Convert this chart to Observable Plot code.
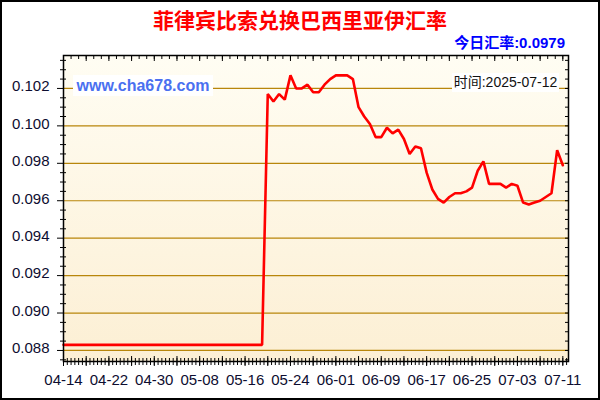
<!DOCTYPE html>
<html><head><meta charset="utf-8">
<script src="https://cdn.jsdelivr.net/npm/d3@7"></script>
<script src="https://cdn.jsdelivr.net/npm/@observablehq/plot@0.6"></script>
<style>
body{margin:0;background:#fff;}
#wrap{position:relative;width:600px;height:400px;overflow:hidden;font-family:"Liberation Sans",Arial,"Noto Sans CJK SC",sans-serif;}
#chart{position:absolute;left:0;top:0;}
#border{position:absolute;left:0;top:0;width:600px;height:400px;box-sizing:border-box;border:2px solid #000;pointer-events:none;}
#title{position:absolute;left:0;width:600px;top:6px;text-align:center;color:#f00;font-weight:bold;font-size:21px;line-height:27px;white-space:nowrap;font-family:"Noto Sans CJK SC",sans-serif;}
#rate{position:absolute;right:35px;top:33px;color:#0000ff;font-weight:bold;font-size:15px;line-height:20px;white-space:nowrap;font-family:"Liberation Sans",Arial,"Noto Sans CJK SC",sans-serif;}
#site{position:absolute;left:73px;top:75px;width:140px;height:21px;background:#fff;color:#4a70f0;font-weight:bold;font-size:16px;line-height:21px;text-align:center;white-space:nowrap;font-family:"Liberation Sans",Arial,sans-serif;}
#date{position:absolute;left:452px;top:73px;width:107px;height:19px;background:#fff;color:#111;font-size:14px;line-height:19px;text-align:center;white-space:nowrap;font-family:"Liberation Sans",Arial,"Noto Sans CJK SC",sans-serif;}
</style></head>
<body>
<div id="wrap">
  <div id="chart"></div>
  <div id="title">菲律宾比索兑换巴西里亚伊汇率</div>
  <div id="rate">今日汇率:0.0979</div>
  <div id="site">www.cha678.com</div>
  <div id="date">时间:2025-07-12</div>
  <div id="border"></div>
</div>
<script>
const dates = [
  "04-14","04-15","04-16","04-17","04-18","04-19","04-20","04-21","04-22","04-23","04-24","04-25","04-26","04-27","04-28","04-29","04-30",
  "05-01","05-02","05-03","05-04","05-05","05-06","05-07","05-08","05-09","05-10","05-11","05-12","05-13","05-14","05-15","05-16","05-17","05-18","05-19",
  "05-20","05-21","05-22","05-23","05-24","05-25","05-26","05-27","05-28","05-29","05-30","05-31",
  "06-01","06-02","06-03","06-04","06-05","06-06","06-07","06-08","06-09","06-10","06-11","06-12","06-13","06-14","06-15",
  "06-16","06-17","06-18","06-19","06-20","06-21","06-22","06-23","06-24","06-25","06-26","06-27","06-28","06-29","06-30",
  "07-01","07-02","07-03","07-04","07-05","07-06","07-07","07-08","07-09","07-10","07-11"
];
const rates = [
  0.0883,0.0883,0.0883,0.0883,0.0883,0.0883,0.0883,0.0883,0.0883,0.0883,0.0883,0.0883,0.0883,0.0883,0.0883,0.0883,0.0883,
  0.0883,0.0883,0.0883,0.0883,0.0883,0.0883,0.0883,0.0883,0.0883,0.0883,0.0883,0.0883,0.0883,0.0883,0.0883,0.0883,0.0883,0.0883,0.0883,
  0.1017,0.1013,0.1017,0.1014,0.1027,0.1020,0.1020,0.1022,0.1018,0.1018,0.1022,0.1025,
  0.1027,0.1027,0.1027,0.1025,0.1010,0.1005,0.1001,0.0994,0.0994,0.0999,0.0996,0.0998,0.0993,0.0985,0.0989,
  0.0988,0.0975,0.0966,0.0961,0.0959,0.0962,0.0964,0.0964,0.0965,0.0967,0.0976,0.0981,0.0969,0.0969,0.0969,
  0.0967,0.0969,0.0968,0.0959,0.0958,0.0959,0.0960,0.0962,0.0964,0.0987,0.0979
];
const yTicks = [0.088,0.090,0.092,0.094,0.096,0.098,0.100,0.102];
const xLabels = ["04-14","04-22","04-30","05-08","05-16","05-24","06-01","06-09","06-17","06-25","07-03","07-11"];
const year = 2025;
const xStart = "04-14", xEnd = "07-12";
const yDomain = [0.08741, 0.10376];

const parse = s => new Date(`${year}-${s}T00:00:00Z`);
const data = dates.map((d, i) => ({date: parse(d), rate: rates[i]}));
const t0 = parse(xStart), t1 = parse(xEnd);
const DAY = 864e5;
const span = (t1 - t0) / DAY;
const stepDates = step => d3.range(0, span + 1e-6, step).map(k => new Date(+t0 + k * DAY));
const xMinorBottom = stepDates(2/3);
const xMajorBottom = stepDates(4);
const xMinorTop = stepDates(4/3);
const xMajorTop = stepDates(4);
const yMinor = d3.range(175, 208).map(k => +(k * 0.0005).toFixed(4)).filter(v => v >= yDomain[0] && v <= yDomain[1]);
const yMinorOnly = yMinor.filter(v => !yTicks.some(t => Math.abs(t - v) < 1e-7));

const ticksOnly = {label: null, fill: "none", stroke: "#000"};
const chart = Plot.plot({
  width: 600,
  height: 400,
  marginLeft: 63,
  marginRight: 32,
  marginTop: 55,
  marginBottom: 39,
  style: {fontFamily: "'Liberation Sans', Arial, sans-serif", background: "transparent", color: "#0d0d30", overflow: "visible"},
  x: {type: "utc", domain: [t0, t1], axis: null},
  y: {domain: yDomain, axis: null},
  marks: [
    Plot.frame({fill: "url(#bgGrad)", stroke: null}),
    Plot.ruleY(yTicks, {stroke: "#b8860b", strokeWidth: 1.2}),
    Plot.axisY(yTicks, {...ticksOnly, anchor: "left", tickSize: 6}),
    Plot.axisY(yMinorOnly, {...ticksOnly, anchor: "left", tickSize: 6, dx: 3}),
    Plot.axisY(yTicks, {anchor: "left", label: null, tickSize: 0, tickPadding: 14, dy: -2, tickFormat: d3.format(".3f"), fontSize: 15, fill: "#0d0d30"}),
    Plot.axisY(yMinor, {...ticksOnly, anchor: "right", tickSize: 4, dx: -4}),
    Plot.axisX(xMinorBottom, {...ticksOnly, anchor: "bottom", tickSize: 7, dy: -3}),
    Plot.axisX(xMajorBottom, {...ticksOnly, anchor: "bottom", tickSize: 10, dy: -5}),
    Plot.axisX(xLabels.map(parse), {anchor: "bottom", label: null, tickSize: 0, tickPadding: 13, tickFormat: d3.utcFormat("%m-%d"), fontSize: 15, fill: "#0d0d30"}),
    Plot.axisX(xMinorTop, {...ticksOnly, anchor: "top", tickSize: 3, dy: 3}),
    Plot.axisX(xMajorTop, {...ticksOnly, anchor: "top", tickSize: 5, dy: 5}),
    Plot.line(data, {x: "date", y: "rate", stroke: "#ff0000", strokeWidth: 2.6, strokeLinejoin: "miter"}),
    Plot.frame({stroke: "#000", strokeWidth: 1.5})
  ]
});

const defs = d3.select(chart).insert("defs", ":first-child");
const g = defs.append("linearGradient").attr("id", "bgGrad").attr("x1", 0).attr("y1", 0).attr("x2", 0).attr("y2", 1);
g.append("stop").attr("offset", "0%").attr("stop-color", "#fffdf3");
g.append("stop").attr("offset", "100%").attr("stop-color", "#fcefd4");

document.getElementById("chart").appendChild(chart);
</script>
</body></html>
